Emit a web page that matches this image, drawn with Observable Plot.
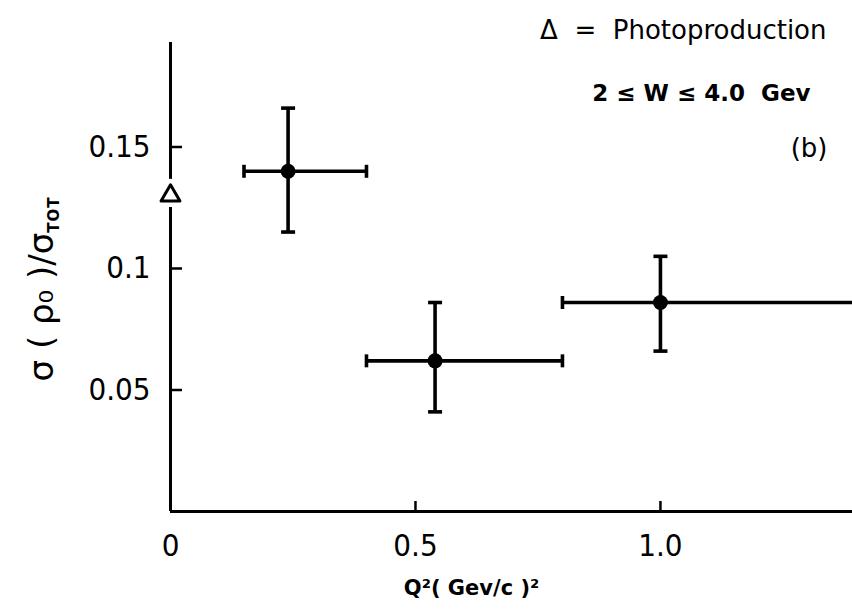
<!DOCTYPE html>
<html>
<head>
<meta charset="utf-8">
<script src="https://cdn.jsdelivr.net/npm/d3@7"></script>
<script src="https://cdn.jsdelivr.net/npm/@observablehq/plot@0.6"></script>
<style>
  body { margin: 0; background: #fff; }
  #chart svg { overflow: visible; }
</style>
</head>
<body>
<div id="chart"></div>
<script>
// ρ0 production as a fraction of the total cross section, 2 ≤ W ≤ 4.0 GeV
const q2 = [0.24, 0.54, 1.0];
const q2Low = [0.15, 0.40, 0.80];
const q2High = [0.40, 0.80, 1.50];
const ratio = [0.140, 0.062, 0.086];
const ratioLow = [0.115, 0.041, 0.066];
const ratioHigh = [0.166, 0.086, 0.105];

// photoproduction point (Q² = 0)
const photoQ2 = [0];
const photoRatio = [0.130];

const xTicks = [0, 0.5, 1.0];
const xTickLabels = ["0", "0.5", "1.0"];
const yTicks = [0.05, 0.1, 0.15];
const yTickLabels = ["0.05", "0.1", "0.15"];

const points = q2.map((x, i) => ({
  x, x1: q2Low[i], x2: q2High[i],
  y: ratio[i], y1: ratioLow[i], y2: ratioHigh[i]
}));
const photo = photoQ2.map((x, i) => ({x, y: photoRatio[i]}));

// flat caps for the error bars
const hCap = {draw(ctx) { ctx.moveTo(-7, 0); ctx.lineTo(7, 0); }};
const vCap = {draw(ctx) { ctx.moveTo(0, -6.5); ctx.lineTo(0, 6.5); }};

const tickFont = "'Liberation Sans Narrow', 'DejaVu Sans Condensed', 'DejaVu Sans', sans-serif";
const textFont = "'DejaVu Sans', sans-serif";
const barWidth = 3.6;

const plot = Plot.plot({
  width: 852,
  height: 610,
  marginLeft: 170,
  marginRight: 0,
  marginTop: 42,
  marginBottom: 99,
  style: {background: "#fff", color: "#000"},
  x: {domain: [0, 1.392]},
  y: {domain: [0, 0.193]},
  marks: [
    // axis lines
    Plot.ruleY([0], {stroke: "#000", strokeWidth: 3}),
    Plot.ruleX([0], {y1: 0, y2: 0.193, stroke: "#000", strokeWidth: 3}),
    // axes: inward ticks, labels outside
    Plot.axisY(yTicks, {
      tickSize: -12, tickPadding: 32, strokeWidth: 2.5, label: null,
      tickFormat: d => yTickLabels[yTicks.indexOf(d)],
      fontSize: 31, fontFamily: tickFont
    }),
    Plot.axisX(xTicks.slice(1), {
      tickSize: -10, tickPadding: 32, strokeWidth: 2.5, label: null,
      tickFormat: d => xTickLabels[xTicks.indexOf(d)],
      fontSize: 31, fontFamily: tickFont
    }),
    Plot.axisX([0], {
      tickSize: 0, tickPadding: 22, label: null,
      tickFormat: d => xTickLabels[xTicks.indexOf(d)],
      fontSize: 31, fontFamily: tickFont
    }),
    // horizontal bin widths
    Plot.ruleY(points, {x1: "x1", x2: "x2", y: "y", stroke: "#000", strokeWidth: barWidth, clip: true}),
    Plot.dot(points.filter(d => d.x2 < 1.392), {x: "x2", y: "y", symbol: vCap, r: 6, stroke: "#000", strokeWidth: barWidth}),
    Plot.dot(points, {x: "x1", y: "y", symbol: vCap, r: 6, stroke: "#000", strokeWidth: barWidth}),
    // vertical errors
    Plot.ruleX(points, {x: "x", y1: "y1", y2: "y2", stroke: "#000", strokeWidth: barWidth}),
    Plot.dot(points, {x: "x", y: "y1", symbol: hCap, r: 6, stroke: "#000", strokeWidth: barWidth}),
    Plot.dot(points, {x: "x", y: "y2", symbol: hCap, r: 6, stroke: "#000", strokeWidth: barWidth}),
    Plot.dot(points, {x: "x", y: "y", r: 7.5, fill: "#000", stroke: "none"}),
    // photoproduction triangle, cut into the axis line
    Plot.dot(photo, {x: "x", y: "y", symbol: "triangle", r: 7, fill: "#fff", stroke: "#fff", strokeWidth: 12, strokeLinejoin: "round"}),
    Plot.dot(photo, {x: "x", y: "y", symbol: "triangle", r: 7, fill: "#fff", stroke: "#000", strokeWidth: 3, strokeLinejoin: "round"}),
    // annotations
    Plot.text(["Δ  =  Photoproduction"], {frameAnchor: "top-right", dx: -26, dy: -12, textAnchor: "end", lineAnchor: "middle", fontSize: 26, fontFamily: textFont, letterSpacing: 3.4}),
    Plot.text(["2 ≤ W ≤ 4.0  Gev"], {frameAnchor: "top-right", dx: -42, dy: 51, textAnchor: "end", lineAnchor: "middle", fontSize: 23, fontWeight: "bold", fontFamily: textFont, letterSpacing: 4.6}),
    Plot.text(["(b)"], {frameAnchor: "top-right", dx: -25, dy: 106, textAnchor: "end", lineAnchor: "middle", fontSize: 26, fontFamily: textFont, letterSpacing: 6}),
    Plot.text(["Q²( Gev/c )²"], {frameAnchor: "bottom", dx: -40, dy: 77, textAnchor: "middle", lineAnchor: "middle", fontSize: 21, fontWeight: "bold", fontFamily: textFont, letterSpacing: 2.5}),
    Plot.text(["σ ( ρ₀ )/σTOT"], {frameAnchor: "left", dx: -128, dy: 12, rotate: -90, textAnchor: "middle", lineAnchor: "middle", fontSize: 34, fontFamily: textFont, letterSpacing: 3})
  ]
});

document.getElementById("chart").append(plot);

// set the TOT subscript of the y label
d3.select(plot).selectAll("text").filter(function() { return this.textContent === "σ ( ρ₀ )/σTOT"; })
  .each(function() {
    const t = d3.select(this);
    t.text(null);
    t.append("tspan").text("σ ( ρ₀ )/σ");
    t.append("tspan").attr("font-size", 15).attr("font-weight", "bold").attr("letter-spacing", 1).attr("dy", "0.35em").text("TOT");
  });
</script>
</body>
</html>
